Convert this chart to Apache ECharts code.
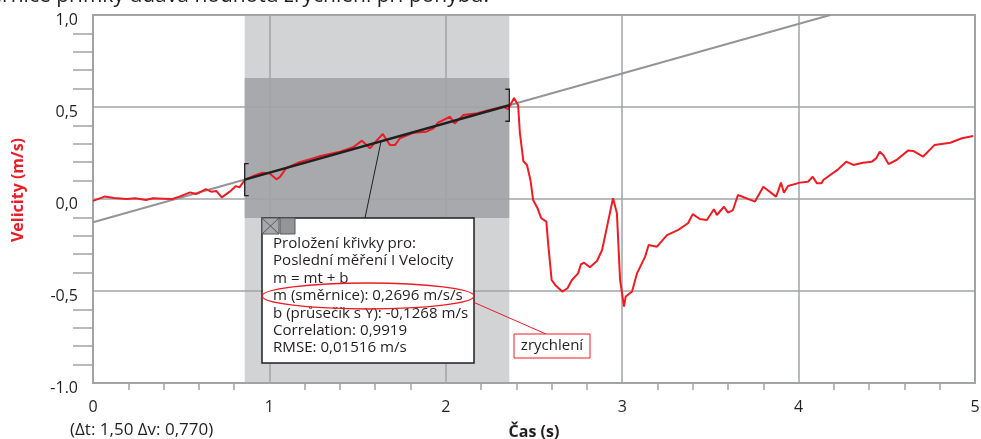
<!DOCTYPE html>
<html>
<head>
<meta charset="utf-8">
<script src="https://cdn.jsdelivr.net/npm/echarts@6/dist/echarts.min.js"></script>
<style>
  html, body { margin: 0; padding: 0; background: #ffffff; }
  #chart { width: 981px; height: 439px; }
</style>
</head>
<body>
<div id="chart"></div>
<script>
// Measured velocity run (time in s, velocity in m/s)
const timeS = [
  0.00, 0.066, 0.12, 0.19, 0.24, 0.30, 0.34, 0.40, 0.45, 0.49,
  0.55, 0.585, 0.64, 0.67, 0.70, 0.73, 0.775, 0.81, 0.83, 0.86,
  0.91, 0.96, 1.00, 1.04, 1.06, 1.095, 1.17, 1.25, 1.29, 1.40,
  1.475, 1.525, 1.57, 1.61, 1.643, 1.684, 1.712, 1.74, 1.815, 1.89,
  1.93, 1.956, 2.024, 2.05, 2.10, 2.18, 2.23, 2.29, 2.325, 2.353,
  2.387, 2.41, 2.42, 2.44, 2.46, 2.48, 2.495, 2.52, 2.54, 2.57,
  2.58, 2.60, 2.62, 2.66, 2.69, 2.715, 2.75, 2.766, 2.784, 2.817,
  2.857, 2.886, 2.914, 2.948, 2.97, 2.988, 3.01, 3.02, 3.056, 3.084,
  3.13, 3.15, 3.197, 3.254, 3.318, 3.373, 3.40, 3.44, 3.48, 3.52,
  3.537, 3.577, 3.60, 3.628, 3.656, 3.753, 3.80, 3.872, 3.883, 3.90,
  3.917, 3.94, 4.008, 4.053, 4.08, 4.104, 4.13, 4.14, 4.22, 4.27,
  4.31, 4.365, 4.415, 4.44, 4.46, 4.48, 4.51, 4.555, 4.62, 4.65,
  4.705, 4.77, 4.86, 4.926, 4.99
];
const velocity = [
  -0.010, 0.013, 0.006, 0.000, 0.004, -0.005, 0.004, 0.002, 0.000, 0.013,
  0.036, 0.027, 0.054, 0.040, 0.043, 0.009, 0.040, 0.070, 0.063, 0.103,
  0.125, 0.143, 0.140, 0.107, 0.120, 0.167, 0.200, 0.222, 0.234, 0.257,
  0.281, 0.317, 0.275, 0.320, 0.353, 0.293, 0.293, 0.330, 0.360, 0.366,
  0.384, 0.415, 0.447, 0.410, 0.456, 0.466, 0.480, 0.493, 0.502, 0.488,
  0.549, 0.510, 0.360, 0.205, 0.185, 0.103, -0.005, -0.050, -0.103, -0.123,
  -0.240, -0.440, -0.467, -0.503, -0.485, -0.440, -0.404, -0.355, -0.346, -0.371,
  -0.337, -0.277, -0.150, 0.004, -0.078, -0.440, -0.585, -0.530, -0.503, -0.404,
  -0.313, -0.250, -0.259, -0.196, -0.168, -0.132, -0.082, -0.109, -0.114, -0.056,
  -0.087, -0.042, -0.074, -0.060, 0.022, -0.014, 0.067, 0.013, 0.040, 0.089,
  0.034, 0.071, 0.089, 0.094, 0.121, 0.085, 0.085, 0.103, 0.158, 0.203,
  0.185, 0.197, 0.203, 0.221, 0.257, 0.239, 0.190, 0.212, 0.263, 0.261,
  0.230, 0.293, 0.306, 0.330, 0.342
];

// Linear fit over the selected interval
const fitSlope = 0.2696;
const fitIntercept = -0.1268;
const fitRange = [0.86, 2.36];
const fitBandV = [-0.103, 0.658];
const fitHalfSpan = 0.087;

// Axis tick labels
const xTickLabels = { 0: '0', 1: '1', 2: '2', 3: '3', 4: '4', 5: '5' };
const yTickLabels = { '1': '1,0', '0.5': '0,5', '0': '0,0', '-0.5': '-0,5', '-1': '-1.0' };

// Texts
const titleText = 'Směrnice přímky udává hodnotu zrychlení při pohybu.';
const infoLines = [
  'Proložení křivky pro:',
  'Poslední měření I Velocity',
  'm = mt + b',
  'm (směrnice): 0,2696 m/s/s',
  'b (průsečík s Y): -0,1268 m/s',
  'Correlation: 0,9919',
  'RMSE: 0,01516 m/s'
];
const deltaText = '(Δt: 1,50 Δv: 0,770)';
const calloutText = 'zrychlení';

const FONT = '"Open Sans", "Noto Sans", sans-serif';
const TXT = '#231f20';
const GRID_GRAY = '#a2a3a5';
const RED = '#ed1c24';

const fitAt = t => fitSlope * t + fitIntercept;
const lineData = timeS.map((t, i) => [t, velocity[i]]);
const tTop = (1 - fitIntercept) / fitSlope;

const chart = echarts.init(document.getElementById('chart'), null, { renderer: 'canvas' });

function rectItem(params, api) {
  const p0 = api.coord([api.value(0), api.value(3)]);
  const p1 = api.coord([api.value(1), api.value(2)]);
  return {
    type: 'rect',
    shape: { x: p0[0], y: p0[1], width: p1[0] - p0[0], height: p1[1] - p0[1] },
    style: { fill: api.visual('color') }
  };
}

chart.setOption({
  animation: false,
  grid: {
    left: 93, right: 6, top: 15, bottom: 56,
    outerBoundsMode: 'none', containLabel: false,
    show: true, borderColor: GRID_GRAY, borderWidth: 2, z: 3
  },
  xAxis: {
    type: 'value', min: 0, max: 5, interval: 1, z: 3,
    name: 'Čas (s)', nameLocation: 'middle', nameGap: 41,
    nameTextStyle: { fontFamily: FONT, fontSize: 16, fontWeight: 'bold', color: TXT },
    axisLine: { show: true, onZero: false, lineStyle: { color: GRID_GRAY, width: 2 } },
    axisTick: { show: false },
    minorTick: { show: true, splitNumber: 5, length: 7, lineStyle: { color: GRID_GRAY, width: 1.5 } },
    axisLabel: {
      margin: 16, fontFamily: FONT, fontSize: 16, color: TXT,
      formatter: v => xTickLabels[v] ?? ''
    },
    splitLine: { show: true, lineStyle: { color: GRID_GRAY, width: 1.5 } },
    minorSplitLine: { show: false }
  },
  yAxis: {
    type: 'value', min: -1, max: 1, interval: 0.5, z: 3,
    name: 'Velicity (m/s)', nameLocation: 'middle', nameGap: 67, nameRotate: 90,
    nameTextStyle: { fontFamily: FONT, fontSize: 16, fontWeight: 'bold', color: RED, padding: [0, 0, 0, 18] },
    axisLine: { show: true, onZero: false, lineStyle: { color: GRID_GRAY, width: 2 } },
    axisTick: { show: false },
    minorTick: { show: true, splitNumber: 5, length: 20, lineStyle: { color: GRID_GRAY, width: 1.5 } },
    axisLabel: {
      margin: 15, fontFamily: FONT, fontSize: 16, color: TXT,
      verticalAlign: 'top', lineHeight: 10,
      formatter: v => yTickLabels[String(v)] ?? ''
    },
    splitLine: { show: true, lineStyle: { color: GRID_GRAY, width: 1.5 } }
  },
  series: [
    {
      name: 'interval', type: 'custom', z: 1, silent: true,
      itemStyle: { color: '#d1d3d4' },
      renderItem: rectItem,
      data: [[fitRange[0], fitRange[1], -1, 1]]
    },
    {
      name: 'fit band', type: 'custom', z: 1, silent: true,
      itemStyle: { color: '#a7a9ac' },
      renderItem: rectItem,
      data: [[fitRange[0], fitRange[1], fitBandV[0], fitBandV[1]]]
    },
    {
      name: 'fit extension', type: 'line', z: 4, silent: true,
      symbol: 'none', clip: true,
      lineStyle: { color: '#939598', width: 2 },
      data: [[0, fitIntercept], [tTop, 1]]
    },
    {
      name: 'Velocity', type: 'line', z: 5, silent: true,
      symbol: 'none',
      lineStyle: { color: RED, width: 2 },
      data: lineData
    },
    {
      name: 'fit', type: 'line', z: 6, silent: true,
      symbol: 'none',
      lineStyle: { color: TXT, width: 2.5 },
      data: fitRange.map(t => [t, fitAt(t)])
    },
    {
      name: 'fit brackets', type: 'custom', z: 6, silent: true,
      renderItem: (params, api) => {
        const t = api.value(0), v = api.value(1);
        const top = api.coord([t, v + fitHalfSpan]);
        const bot = api.coord([t, v - fitHalfSpan]);
        const dir = params.dataIndex === 0 ? 1 : -1;
        const arm = 4 * dir;
        return {
          type: 'polyline',
          shape: { points: [[top[0] + arm, top[1]], top, bot, [bot[0] + arm, bot[1]]] },
          style: { stroke: TXT, lineWidth: 1.3, fill: null }
        };
      },
      data: fitRange.map(t => [t, fitAt(t)])
    }
  ]
});

// Annotation callout, anchored to the fit line
const tAnchor = 1.633;
const anchor = chart.convertToPixel({ gridIndex: 0 }, [tAnchor, fitAt(tAnchor)]);
const box = { x: 262, y: 218, w: 212, h: 145 };

chart.setOption({
  graphic: [
    {
      type: 'text', x: 489, y: -4, z: 10,
      style: {
        text: titleText, fill: TXT, font: '21px ' + FONT,
        align: 'right', verticalAlign: 'middle'
      }
    },
    {
      type: 'line', z: 20,
      shape: { x1: anchor[0], y1: anchor[1], x2: 365, y2: box.y },
      style: { stroke: TXT, lineWidth: 1 }
    },
    {
      type: 'rect', z: 20,
      shape: { x: box.x, y: box.y, width: box.w, height: box.h },
      style: { fill: '#ffffff', stroke: TXT, lineWidth: 1.5 }
    },
    {
      type: 'rect', z: 21,
      shape: { x: box.x, y: box.y, width: 17, height: 16 },
      style: { fill: '#a7a9ac', stroke: '#58595b', lineWidth: 1 }
    },
    {
      type: 'polyline', z: 22,
      shape: { points: [[box.x, box.y], [box.x + 17, box.y + 16]] },
      style: { stroke: '#58595b', lineWidth: 1 }
    },
    {
      type: 'polyline', z: 22,
      shape: { points: [[box.x + 17, box.y], [box.x, box.y + 16]] },
      style: { stroke: '#58595b', lineWidth: 1 }
    },
    {
      type: 'rect', z: 21,
      shape: { x: box.x + 18, y: box.y, width: 15, height: 16 },
      style: { fill: '#939598', stroke: '#58595b', lineWidth: 1 }
    },
    {
      type: 'text', z: 22, x: box.x + 11, y: box.y + 17,
      style: {
        text: infoLines.join('\n'), fill: TXT, font: '15.1px ' + FONT,
        lineHeight: 17.4, align: 'left', verticalAlign: 'top'
      }
    },
    {
      type: 'ellipse', z: 23,
      shape: { cx: 368, cy: 296, rx: 106, ry: 13 },
      style: { fill: null, stroke: RED, lineWidth: 1.3 }
    },
    {
      type: 'line', z: 23,
      shape: { x1: 473, y1: 302, x2: 546, y2: 334 },
      style: { stroke: RED, lineWidth: 1 }
    },
    {
      type: 'rect', z: 23,
      shape: { x: 514, y: 334, width: 76, height: 24 },
      style: { fill: '#ffffff', stroke: RED, lineWidth: 1 }
    },
    {
      type: 'text', z: 24, x: 552, y: 346,
      style: { text: calloutText, fill: TXT, font: '15px ' + FONT, align: 'center', verticalAlign: 'middle' }
    },
    {
      type: 'text', z: 10, x: 70, y: 430,
      style: { text: deltaText, fill: TXT, font: '17px ' + FONT, align: 'left', verticalAlign: 'middle' }
    }
  ]
});
</script>
</body>
</html>
